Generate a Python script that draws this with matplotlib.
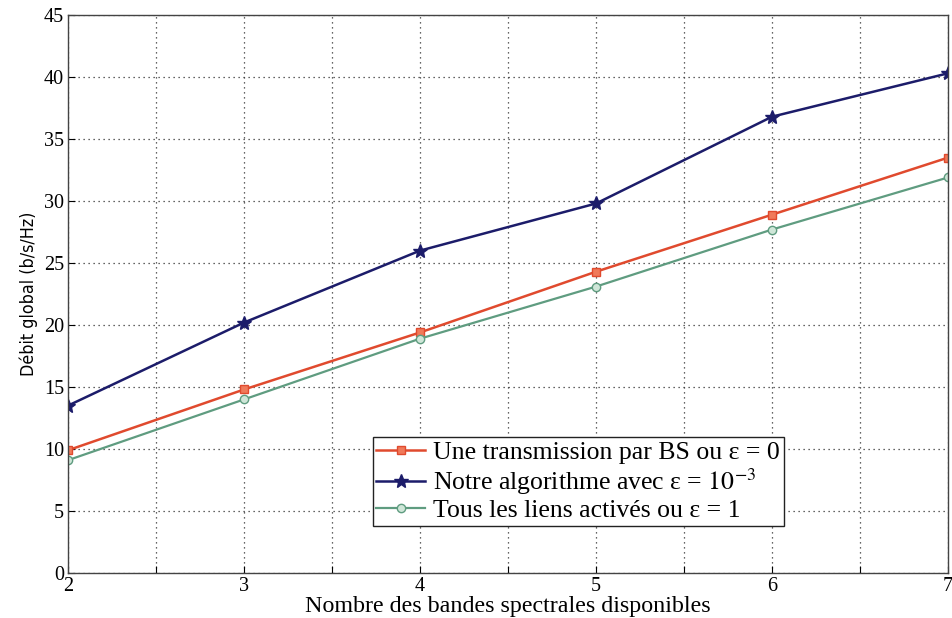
import matplotlib
matplotlib.use("Agg")
import matplotlib.pyplot as plt
import numpy as np

x = [2, 3, 4, 5, 6, 7]
une_transmission = [9.9, 14.8, 19.4, 24.3, 28.9, 33.5]
notre_algo = [13.5, 20.2, 26.0, 29.8, 36.8, 40.3]
tous_liens = [9.1, 14.0, 18.9, 23.1, 27.7, 31.9]

xticks = [2, 2.5, 3, 3.5, 4, 4.5, 5, 5.5, 6, 6.5, 7]
xticklabels = ["2", "", "3", "", "4", "", "5", "", "6", "", "7"]
yticks = [0, 5, 10, 15, 20, 25, 30, 35, 40, 45]

plt.rcParams['font.family'] = ['Liberation Serif', 'DejaVu Serif']
plt.rcParams['mathtext.fontset'] = 'stix'

fig = plt.figure(figsize=(9.53, 6.18), dpi=100)
ax = fig.add_axes([0.0714, 0.0728, 0.9234, 0.9029])

ax.plot(x, une_transmission, color='#e04a2e', lw=1.8, marker='s', ms=6,
        mfc='#f07a5a', mec='#e04a2e', label='Une transmission par BS ou ε = 0')
ax.plot(x, notre_algo, color='#1c1c6a', lw=1.8, marker='*', ms=10,
        mfc='#1c1c6a', mec='#1c1c6a', label='Notre algorithme avec ε = $10^{-3}$')
ax.plot(x, tous_liens, color='#5f9c80', lw=1.6, marker='o', ms=6,
        mfc='#cfe6d8', mec='#5f9c80', label='Tous les liens activés ou ε = 1')

ax.set_xlim(2, 7)
ax.set_ylim(0, 45)
ax.set_xticks(xticks)
ax.set_xticklabels(xticklabels)
ax.set_yticks(yticks)
ax.grid(True, color='#333333', linestyle=(0, (1, 3)), linewidth=0.9)
ax.tick_params(direction='in', labelsize=14.5, length=5, pad=3)
for s in ax.spines.values():
    s.set_color('#444444')
    s.set_linewidth(1.0)

ax.set_xlabel('Nombre des bandes spectrales disponibles', fontsize=17.3, labelpad=0)
ax.set_ylabel('Débit global (b/s/Hz)', fontsize=12.8, labelpad=4,
              family=['DejaVu Sans'], fontstretch='condensed')

leg = ax.legend(loc='upper left', bbox_to_anchor=(0.346, 0.243), fontsize=18.5,
                frameon=True, fancybox=False, edgecolor='#222222', framealpha=1,
                borderpad=0.15, labelspacing=0.08, handlelength=1.9, handletextpad=0.3,
                borderaxespad=0)
leg.get_frame().set_linewidth(1.0)

fig.savefig('out.png', dpi=100)
